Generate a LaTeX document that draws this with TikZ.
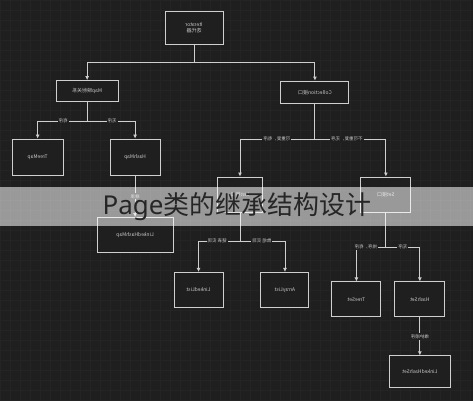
\documentclass[tikz,border=0pt]{standalone}
\usepackage{fontspec}
\usepackage{graphicx}
\setmainfont{Noto Sans CJK SC}
\newfontfamily\latinsans{Noto Sans}
\usetikzlibrary{arrows.meta}
\definecolor{bgc}{HTML}{1F1F1F}
\definecolor{gridc}{HTML}{242424}
\definecolor{boxline}{HTML}{CFCFCF}
\definecolor{txtc}{HTML}{C8C8C8}
\definecolor{titlec}{HTML}{262626}
\newcommand{\mir}[1]{\reflectbox{#1}}
\tikzset{
  cls/.style={draw=boxline, line width=1pt, fill=bgc, text=txtc, font=\fontsize{5}{6}\selectfont, inner sep=0pt, align=center},
  conn/.style={draw=boxline, line width=0.9pt},
  arr/.style={conn, -{Latex[length=4pt,width=4pt]}},
  elab/.style={fill=bgc, text=txtc, font=\fontsize{4.5}{5}\selectfont, inner sep=1pt}
}
\begin{document}
\begin{tikzpicture}[x=1pt,y=-1pt]
\fill[bgc] (0,0) rectangle (473,400);
\draw[gridc, line width=0.4pt, step=10pt] (0,0) grid (473,400);
\useasboundingbox (0,0) rectangle (473,400);

% nodes
\node[cls, minimum width=58pt, minimum height=33pt] (it) at (194,28) {\mir{\begin{tabular}{@{}c@{}}Iterator\\迭代器\end{tabular}}};
\node[cls, minimum width=62pt, minimum height=21pt] (map) at (87,91) {\mir{Map映射关系}};
\node[cls, minimum width=68pt, minimum height=22pt] (col) at (315,92) {\mir{Collection接口}};
\node[cls, minimum width=51pt, minimum height=36pt] (tm) at (37.5,157) {\mir{TreeMap}};
\node[cls, minimum width=50pt, minimum height=36pt] (hm) at (135,157) {\mir{HashMap}};
\node[cls, minimum width=76pt, minimum height=35pt] (lhm) at (135,235) {\mir{LinkedHashMap}};
\node[cls, minimum width=46pt, minimum height=35pt] (list) at (240,194.5) {\mir{List接口}};
\node[cls, minimum width=50pt, minimum height=35pt] (set) at (386,194.5) {\mir{Set接口}};
\node[cls, minimum width=49pt, minimum height=35pt] (ll) at (198.5,290) {\mir{LinkedList}};
\node[cls, minimum width=48pt, minimum height=35pt] (al) at (285,290) {\mir{ArrayList}};
\node[cls, minimum width=49pt, minimum height=35pt] (ts) at (356.5,299.5) {\mir{TreeSet}};
\node[cls, minimum width=50pt, minimum height=35pt] (hs) at (420,299.5) {\mir{HashSet}};
\node[cls, minimum width=61pt, minimum height=32pt] (lhs) at (420,372) {\mir{LinkedHashSet}};

% junctions
\coordinate (j1) at (194,62);
\coordinate (j2) at (87,121);
\coordinate (j4) at (315,139);
\coordinate (j5) at (240,241);
\coordinate (j6) at (386,247);

% connectors
\draw[conn] (it.south) -- (j1);
\draw[arr] (j1) -| (map.north);
\draw[arr] (j1) -| (col.north);

\draw[conn] (map.south) -- (j2);
\draw[arr] (j2) -| (tm.north);
\draw[arr] (j2) -| (hm.north);
\node[elab] (l1) at (63,121) {\mir{有序}};
\node[elab] (l2) at (112,121) {\mir{无序}};

\draw[arr] (hm.south) -- (lhm.north) node[elab, pos=0.5] (l3) {\mir{继承}};

\draw[conn] (col.south) -- (j4);
\draw[arr] (j4) -| (list.north);
\draw[arr] (j4) -| (set.north);
\node[elab] (l4) at (277,139) {\mir{可重复，有序}};
\node[elab] (l5) at (347,139) {\mir{不可重复，无序}};

\draw[conn] (list.south) -- (j5);
\draw[arr] (j5) -| (ll.north);
\draw[arr] (j5) -| (al.north);
\node[elab] (l6) at (217,241) {\mir{链表 实现}};
\node[elab] (l7) at (262,241) {\mir{数组 实现}};

\draw[conn] (set.south) -- (j6);
\draw[arr] (j6) -| (ts.north);
\draw[arr] (j6) -| (hs.north);
\node[elab] (l8) at (366,247) {\mir{排序，有序}};
\node[elab] (l9) at (403,247) {\mir{无序}};

\draw[arr] (hs.south) -- (lhs.north) node[elab, pos=0.5] (l10) {\mir{维护顺序}};

% overlay band and title
\fill[white, opacity=0.55] (0,187) rectangle (473,226);
\node[text=titlec, font=\fontsize{26}{29}\selectfont, inner sep=0pt] (title) at (237,207) {{\latinsans Page}类的继承结构设计};
\end{tikzpicture}
\end{document}
